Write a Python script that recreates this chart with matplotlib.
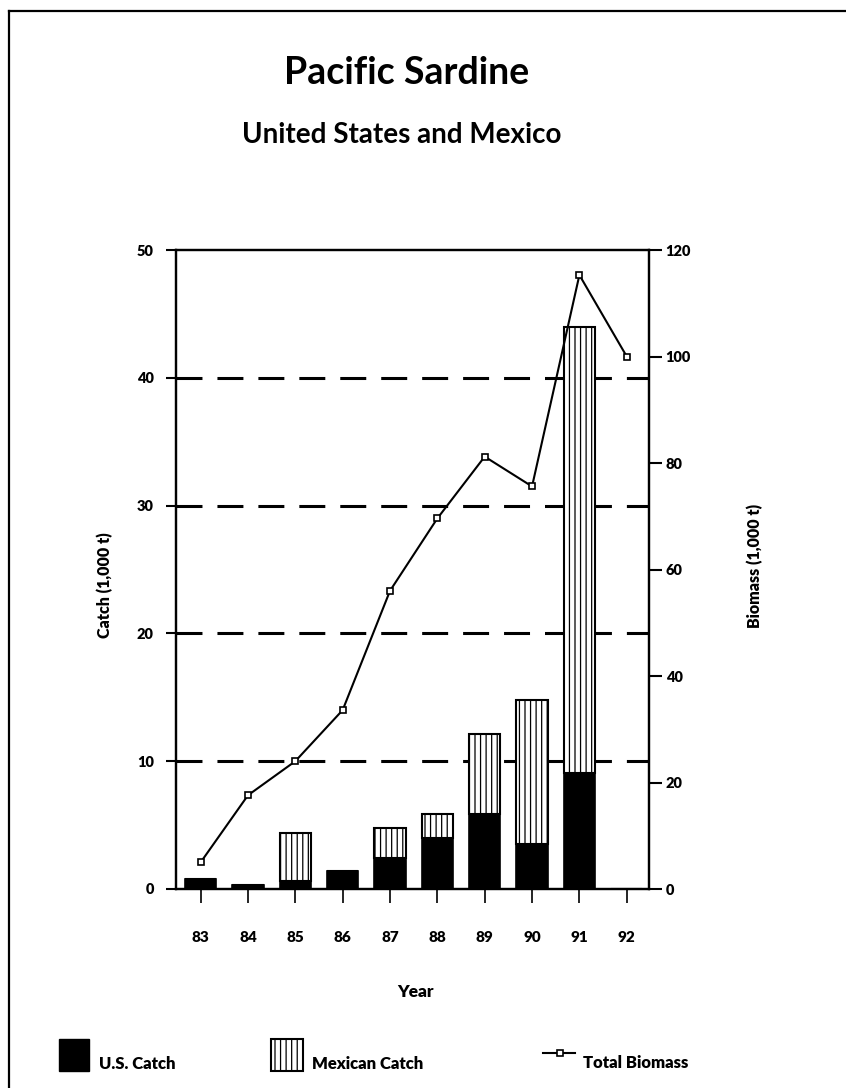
import matplotlib
matplotlib.use("Agg")
import matplotlib.pyplot as plt
from matplotlib.patches import Rectangle

# values
years = ["83", "84", "85", "86", "87", "88", "89", "90", "91", "92"]
us_catch = [0.8, 0.3, 0.6, 1.4, 2.4, 4.0, 5.9, 3.5, 9.1, 0.0]        # 1,000 t
mexican_catch = [0.0, 0.0, 3.8, 0.0, 2.4, 1.9, 6.2, 11.3, 34.9, 0.0]  # 1,000 t
biomass = [5.0, 17.6, 24.0, 33.6, 56.0, 69.6, 81.2, 75.6, 115.3, 100.0]
catch_ticks = [0, 10, 20, 30, 40, 50]
biomass_ticks = [0, 20, 40, 60, 80, 100, 120]

plt.rcParams["font.family"] = ["Lato", "DejaVu Sans"]
plt.rcParams["font.weight"] = "bold"
plt.rcParams["hatch.linewidth"] = 0.9

W, H = 846, 1088
fig = plt.figure(figsize=(W / 100, H / 100), dpi=100)

# overlay in pixel coords for the page frame and the legend keys
lax = fig.add_axes([0, 0, 1, 1])
lax.set_xlim(0, W)
lax.set_ylim(H, 0)
lax.axis("off")
lax.plot([9, W], [11, 11], color="black", lw=1.6)
lax.plot([9, 9], [11, H], color="black", lw=1.6)

ax = fig.add_axes([176 / W, 1 - 889 / H, (649 - 176) / W, (889 - 250) / H])
x = list(range(len(years)))

for yv in catch_ticks[1:-1]:
    ax.axhline(yv, color="black", lw=2.2, dashes=(8.5, 4.9), zorder=1)

ax.bar(x, us_catch, width=0.66, color="black", edgecolor="black", lw=1.2, zorder=2)
ax.bar(x, mexican_catch, bottom=us_catch, width=0.66, facecolor="white",
       edgecolor="black", hatch="|||", lw=1.5, zorder=2)

ax.set_xlim(-0.52, 9.47)
ax.set_ylim(0, 50)
ax.set_xticks(x, years)
ax.set_yticks(catch_ticks)
ax.tick_params(axis="x", direction="out", length=10, width=1.2, pad=20, labelsize=11)
ax.tick_params(axis="y", direction="out", length=7, width=1.5, pad=9, labelsize=10.5)
for lab in ax.get_xticklabels() + ax.get_yticklabels():
    lab.set_fontweight("heavy")
for s in ax.spines.values():
    s.set_linewidth(1.6)

ax2 = ax.twinx()
ax2.plot(x, biomass, color="black", lw=1.5, marker="s", ms=5,
         mfc="white", mec="black", mew=1.2, zorder=3)
ax2.set_ylim(0, 120)
ax2.set_yticks(biomass_ticks)
ax2.tick_params(axis="y", direction="out", length=9, width=1.5, pad=3, labelsize=10.5)
for lab in ax2.get_yticklabels():
    lab.set_fontweight("heavy")
for s in ax2.spines.values():
    s.set_linewidth(1.6)

fig.text(407 / W, 1 - 73 / H, "Pacific Sardine", size=27, ha="center", va="center")
fig.text(402 / W, 1 - 135 / H, "United States and Mexico", size=20, ha="center", va="center")
fig.text(105 / W, 1 - 585 / H, "Catch (1,000 t)", size=11.5, rotation=90,
         ha="center", va="center", weight="heavy")
fig.text(755 / W, 1 - 566 / H, "Biomass (1,000 t)", size=11.5, rotation=90,
         ha="center", va="center", weight="heavy")
fig.text(415 / W, 1 - 992 / H, "Year", size=12.5, ha="center", va="center", weight="heavy")

# legend
lax.add_patch(Rectangle((59, 1039), 30, 32, facecolor="black", edgecolor="black"))
lax.add_patch(Rectangle((271, 1039), 32, 32, facecolor="white", edgecolor="black",
                        hatch="|||", lw=1.5))
lax.plot([543, 575], [1053, 1053], color="black", lw=1.5)
lax.plot([560], [1053], marker="s", ms=5, mfc="white", mec="black", mew=1.2)
lax.text(99, 1064, "U.S. Catch", size=12, va="center", weight="heavy")
lax.text(312, 1064, "Mexican Catch", size=12, va="center", weight="heavy")
lax.text(583, 1063, "Total Biomass", size=12, va="center", weight="heavy")

fig.savefig("out.png", dpi=100)
